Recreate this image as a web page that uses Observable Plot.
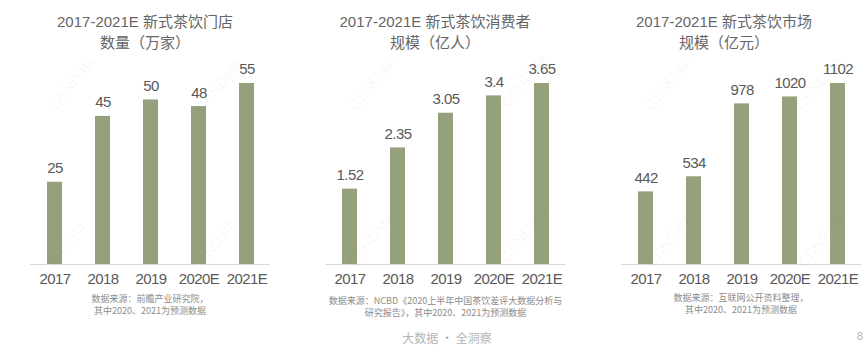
<!DOCTYPE html>
<html>
<head>
<meta charset="utf-8">
<script src="https://cdn.jsdelivr.net/npm/d3@7"></script>
<script src="https://cdn.jsdelivr.net/npm/@observablehq/plot@0.6"></script>
<style>
  html, body { margin: 0; padding: 0; background: #fff; }
  body { width: 868px; height: 359px; position: relative; overflow: hidden;
         font-family: "Liberation Sans", Arial, "Noto Sans CJK SC", sans-serif; }
  .panel { position: absolute; top: 0; height: 359px; }
  .title { position: absolute; top: 11px; left: 0; width: 100%; text-align: center;
           font-size: 15px; line-height: 21px; color: #666; white-space: nowrap; }
  .chart { position: absolute; top: 50px; left: 0; }
  .note { position: absolute; text-align: center; font-size: 9px; line-height: 11.5px;
          color: #8c8c8c; white-space: nowrap; font-family: "Noto Sans CJK SC", sans-serif; }
  .footer { position: absolute; top: 329px; left: 0; width: 894px; text-align: center;
            font-size: 12px; color: #b5b5b5; font-family: "Noto Sans CJK SC", sans-serif; }
  .page { position: absolute; top: 330px; left: 857px; font-size: 11px; color: #b5b5b5; }
  .wm { position: absolute; font-size: 15px; color: rgba(0,0,0,0.045); transform: translate(-50%,-50%) rotate(-52deg);
        white-space: nowrap; font-family: "Liberation Sans", Arial, sans-serif; }
</style>
</head>
<body>
<div id="root"></div>
<script>
// ---- data ----
const years = ["2017", "2018", "2019", "2020E", "2021E"];
const storeCounts = [25, 45, 50, 48, 55];            // 万家
const consumers = [1.52, 2.35, 3.05, 3.4, 3.65];     // 亿人
const marketSize = [442, 534, 978, 1020, 1102];      // 亿元

const titles = [
  ["2017-2021E 新式茶饮门店", "数量（万家）"],
  ["2017-2021E 新式茶饮消费者", "规模（亿人）"],
  ["2017-2021E 新式茶饮市场", "规模（亿元）"]
];
const notes = [
  ["数据来源：前瞻产业研究院，", "其中2020、2021为预测数据"],
  ["数据来源：NCBD《2020上半年中国茶饮差评大数据分析与", "研究报告》，其中2020、2021为预测数据"],
  ["数据来源：互联网公开资料整理，", "其中2020、2021为预测数据"]
];
const footerText = "大数据 · 全洞察";
const pageNumber = "8";
const watermark = "CBNData";

// ---- layout ----
const panels = [
  {left: 0,   width: 290, ml: 30,   mr: 20,   noteTop: 293, series: storeCounts},
  {left: 290, width: 290, ml: 35.5, mr: 14.5, noteTop: 295, series: consumers},
  {left: 580, width: 288, ml: 41,   mr: 7,    noteTop: 292, series: marketSize}
];
const barColor = "#95a07c";
const root = document.getElementById("root");

panels.forEach((p, i) => {
  const panel = document.createElement("div");
  panel.className = "panel";
  panel.style.left = p.left + "px";
  panel.style.width = p.width + "px";

  const t = document.createElement("div");
  t.className = "title";
  t.innerHTML = titles[i].join("<br>");
  panel.appendChild(t);

  const data = years.map((y, k) => ({year: y, value: p.series[k]}));
  const yMax = d3.max(p.series) * 1.127;

  const chart = Plot.plot({
    width: p.width,
    height: 240,
    marginTop: 10,
    marginBottom: 26,
    marginLeft: p.ml,
    marginRight: p.mr,
    style: {fontFamily: "'Liberation Sans', Arial, sans-serif", fontSize: "15px",
            color: "#595959", background: "transparent", letterSpacing: "-0.6px"},
    x: {domain: years, paddingInner: 0.6875, paddingOuter: 0.34375, label: null},
    y: {domain: [0, yMax], axis: null},
    marks: [
      Plot.barY(data, {x: "year", y: "value", fill: barColor}),
      Plot.ruleY([0], {stroke: "#d9d9d9", strokeWidth: 1}),
      Plot.text(data, {x: "year", y: "value", text: d => String(d.value), dy: -9,
                       lineAnchor: "bottom", fontSize: 15, fill: "#595959"}),
      Plot.axisX({tickSize: 0, tickPadding: 9, fontSize: 15, label: null})
    ]
  });
  chart.classList.add("chart");
  chart.style.position = "absolute";
  chart.style.top = "50px";
  chart.style.left = "0px";
  panel.appendChild(chart);

  const n = document.createElement("div");
  n.className = "note";
  n.style.top = p.noteTop + "px";
  n.style.left = (p.ml - 40) + "px";
  n.style.width = "320px";
  n.innerHTML = notes[i].join("<br>");
  panel.appendChild(n);

  root.appendChild(panel);
});

// watermarks
[[72, 83], [218, 86], [372, 83], [523, 80], [668, 83], [818, 83],
 [62, 248], [213, 246], [370, 240], [523, 235], [668, 240], [820, 240]].forEach(([x, y]) => {
  const w = document.createElement("div");
  w.className = "wm";
  w.style.left = x + "px";
  w.style.top = y + "px";
  w.textContent = watermark;
  root.appendChild(w);
});

const f = document.createElement("div");
f.className = "footer";
f.textContent = footerText;
root.appendChild(f);

const pg = document.createElement("div");
pg.className = "page";
pg.textContent = pageNumber;
root.appendChild(pg);
</script>
</body>
</html>
